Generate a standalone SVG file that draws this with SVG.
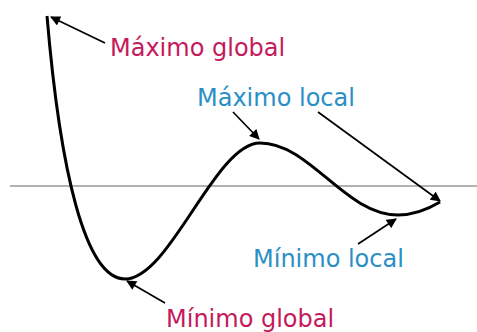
<svg xmlns="http://www.w3.org/2000/svg" width="477" height="332" viewBox="0 0 477 332">
<style>
.lbl{font-family:"DejaVu Sans","Liberation Sans",sans-serif;font-size:24px}
.g{fill:#c41a5c}
.l{fill:#2a8fc6}
.arr{stroke:#000;stroke-width:1.7;fill:none;marker-end:url(#ah)}
</style>
<defs>
<marker id="ah" viewBox="0 0 10 10" refX="9" refY="5" markerWidth="11" markerHeight="10" orient="auto" markerUnits="userSpaceOnUse">
<path d="M0,0 L10,5 L0,10 z" fill="#000"/>
</marker>
</defs>
<rect width="477" height="332" fill="#fff"/>
<g id="axis"><line x1="10" y1="186" x2="477" y2="186" stroke="#999" stroke-width="1.3"/></g>
<g id="curve"><path d="M47,16 C60,170 85,279 125,279 C170,279 215,143 260,143 C310,143 345,215 398,215 C415,215 430,208 440,202" fill="none" stroke="#000" stroke-width="3"/></g>
<g id="maxglobal"><text class="lbl g" x="110" y="56">Máximo global</text></g>
<g id="maxlocal"><text class="lbl l" x="197" y="106">Máximo local</text></g>
<g id="minlocal"><text class="lbl l" x="253" y="267">Mínimo local</text></g>
<g id="minglobal"><text class="lbl g" x="166" y="327">Mínimo global</text></g>
<g id="connectors">
<line class="arr" x1="105" y1="43" x2="51" y2="17"/>
<line class="arr" x1="233" y1="112" x2="259" y2="139"/>
<line class="arr" x1="318" y1="112" x2="440" y2="201"/>
<line class="arr" x1="358" y1="244" x2="396" y2="219"/>
<line class="arr" x1="165" y1="303" x2="127" y2="281"/>
</g>
</svg>
